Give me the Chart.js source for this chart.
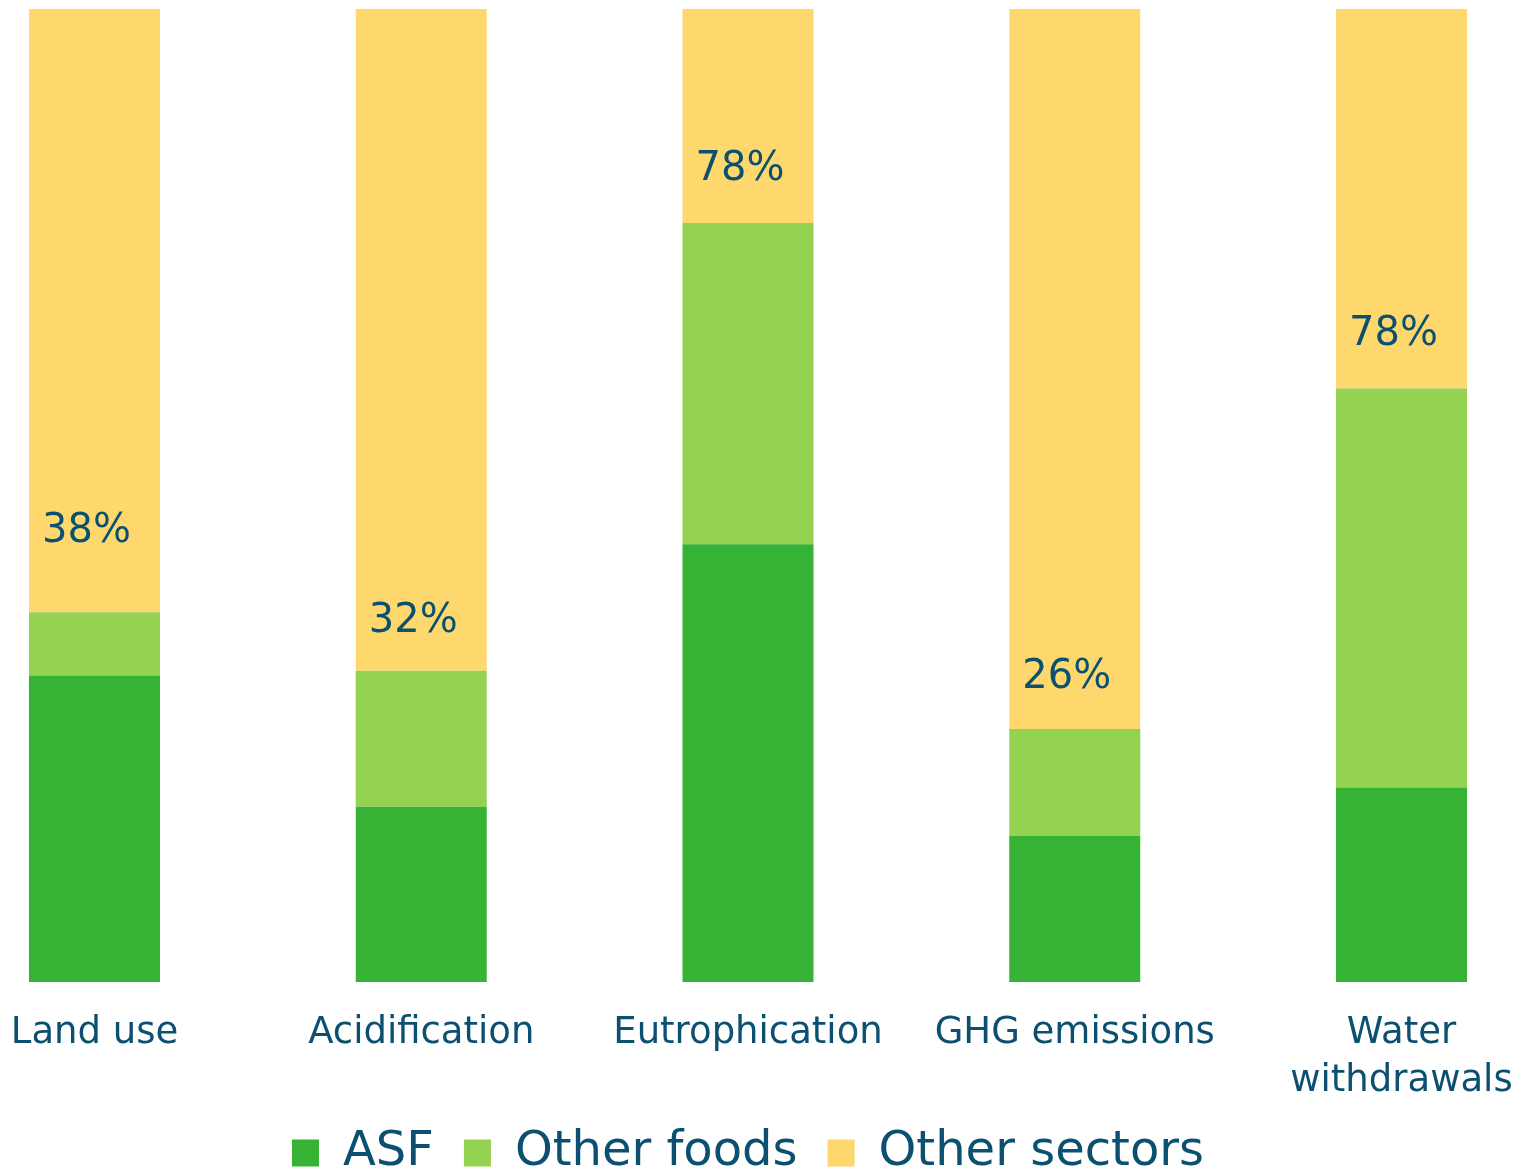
<!DOCTYPE html>
<html>
<head>
<meta charset="utf-8">
<script src="https://cdn.jsdelivr.net/npm/chart.js@4/dist/chart.umd.min.js"></script>
<style>
  html, body { margin: 0; padding: 0; background: #fff; }
  #wrap { width: 1524px; height: 1173px; }
</style>
</head>
<body>
<div id="wrap"><canvas id="impactChart"></canvas></div>
<script>
// chart data
var categories = ['Land use', 'Acidification', 'Eutrophication', 'GHG emissions', ['Water', 'withdrawals']];
var asf = [31.5, 18, 45, 15, 20];
var otherFoods = [6.5, 14, 33, 11, 41];
var otherSectors = [62, 68, 22, 74, 39];
var foodShare = ['38%', '32%', '78%', '26%', '78%'];

var colors = ['#36b334', '#94d251', '#fed86c'];
var textColor = '#0b5070';
var fontFamily = '"DejaVu Sans", Verdana, sans-serif';

// food share text above the green part of each bar
var shareLabels = {
  id: 'shareLabels',
  afterDatasetsDraw: function (chart, args, opts) {
    var meta = chart.getDatasetMeta(1);
    var ctx = chart.ctx;
    ctx.save();
    ctx.font = '40px ' + fontFamily;
    ctx.fillStyle = textColor;
    ctx.textAlign = 'left';
    ctx.textBaseline = 'alphabetic';
    meta.data.forEach(function (bar, i) {
      var left = bar.x - bar.width / 2;
      ctx.fillText(foodShare[i], left + 13, bar.y - opts.lift[i]);
    });
    ctx.restore();
  }
};

new Chart(document.getElementById('impactChart'), {
  type: 'bar',
  data: {
    labels: categories,
    datasets: [
      { label: 'ASF', data: asf, backgroundColor: colors[0] },
      { label: 'Other foods', data: otherFoods, backgroundColor: colors[1] },
      { label: 'Other sectors', data: otherSectors, backgroundColor: colors[2] }
    ]
  },
  options: {
    responsive: true,
    maintainAspectRatio: false,
    animation: false,
    layout: { padding: { top: 9, left: 94.5, right: 122.5, bottom: 0 } },
    datasets: { bar: { borderWidth: 0, barPercentage: 0.401, categoryPercentage: 1, clip: false } },
    scales: {
      x: {
        stacked: true,
        offset: false,
        grid: { display: false, drawTicks: false },
        border: { display: false },
        ticks: {
          color: textColor,
          font: { family: fontFamily, size: 37, lineHeight: 1.3 },
          padding: 27,
          maxRotation: 0,
          minRotation: 0,
          autoSkip: false
        },
        afterFit: function (scale) {
          // first and last bars sit on the edge ticks, keep the area fixed
          scale.paddingLeft = 0;
          scale.paddingRight = 0;
          scale.height = 117;
        }
      },
      y: { stacked: true, display: false, min: 0, max: 100 }
    },
    plugins: {
      legend: {
        position: 'bottom',
        maxHeight: 74,
        labels: {
          color: textColor,
          font: { family: fontFamily, size: 48 },
          boxWidth: 27,
          boxHeight: 27,
          padding: 30
        }
      },
      shareLabels: { lift: [70, 39, 43, 41, 43] },
      tooltip: { enabled: false }
    }
  },
  plugins: [shareLabels]
});
</script>
</body>
</html>
